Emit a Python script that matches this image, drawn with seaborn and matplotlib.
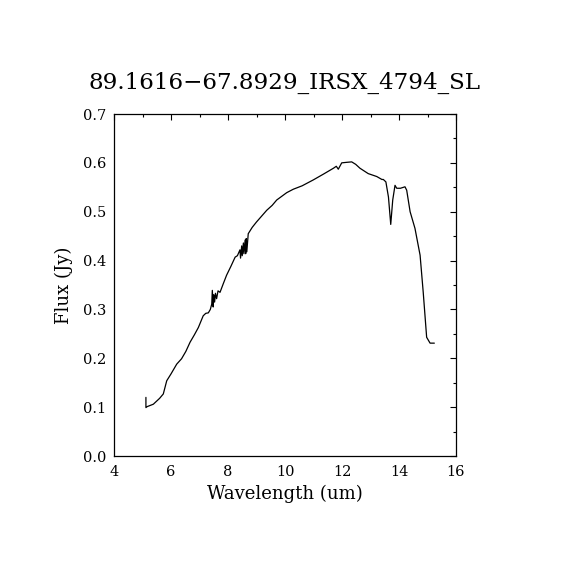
import matplotlib
matplotlib.use('Agg')
import matplotlib.pyplot as plt
import seaborn as sns
import pandas as pd
from matplotlib.ticker import MultipleLocator

# spectrum
wavelength = [5.12, 5.12, 5.16, 5.38, 5.60, 5.73, 5.85, 6.00, 6.20, 6.37, 6.52, 6.67,
              6.82, 6.96, 7.13, 7.22, 7.31, 7.38, 7.43, 7.45, 7.48, 7.50, 7.53, 7.56,
              7.60, 7.65, 7.72, 7.83, 7.95, 8.10, 8.25, 8.33, 8.42, 8.44, 8.48, 8.50,
              8.54, 8.56, 8.60, 8.62, 8.64, 8.66, 8.71, 8.85, 9.00, 9.18, 9.36, 9.55,
              9.71, 9.85, 10.06, 10.29, 10.60, 10.99, 11.35, 11.70, 11.80, 11.87, 11.99,
              12.15, 12.34, 12.48, 12.63, 12.92, 13.22, 13.40, 13.45, 13.54, 13.63,
              13.71, 13.78, 13.86, 13.92, 14.05, 14.21, 14.27, 14.39, 14.56, 14.74,
              14.85, 14.97, 15.09, 15.24]
flux = [0.120, 0.099, 0.101, 0.106, 0.118, 0.127, 0.154, 0.168, 0.188, 0.199, 0.214,
        0.233, 0.248, 0.263, 0.287, 0.292, 0.293, 0.300, 0.311, 0.339, 0.305, 0.330,
        0.315, 0.333, 0.322, 0.338, 0.335, 0.352, 0.370, 0.388, 0.407, 0.410, 0.422,
        0.405, 0.430, 0.410, 0.436, 0.414, 0.442, 0.414, 0.445, 0.418, 0.455, 0.468,
        0.479, 0.491, 0.503, 0.513, 0.524, 0.530, 0.539, 0.546, 0.553, 0.565, 0.577,
        0.589, 0.593, 0.587, 0.600, 0.601, 0.602, 0.597, 0.589, 0.578, 0.572, 0.566,
        0.566, 0.561, 0.530, 0.474, 0.524, 0.554, 0.548, 0.548, 0.551, 0.544, 0.500,
        0.466, 0.411, 0.335, 0.243, 0.231, 0.231]

title = "89.1616\u221267.8929_IRSX_4794_SL"

df = pd.DataFrame({'Wavelength': wavelength, 'Flux': flux})

sns.set_style('white')
plt.rcParams['font.family'] = ['DejaVu Serif']
plt.rcParams['text.color'] = 'black'
plt.rcParams['axes.labelcolor'] = 'black'

fig = plt.figure(figsize=(5.7, 5.7), dpi=100)
ax = fig.add_axes([0.2, 0.2, 0.6, 0.6])

sns.lineplot(data=df, x='Wavelength', y='Flux', sort=False, estimator=None,
             color='black', linewidth=0.9, ax=ax)

ax.set_xlim(4, 16)
ax.set_ylim(0, 0.7)
ax.xaxis.set_major_locator(MultipleLocator(2))
ax.xaxis.set_minor_locator(MultipleLocator(1))
ax.yaxis.set_major_locator(MultipleLocator(0.1))
ax.yaxis.set_minor_locator(MultipleLocator(0.05))
ax.yaxis.set_major_formatter(plt.FuncFormatter(lambda v, p: f'{v:.1f}'))
ax.tick_params(which='both', direction='in', top=True, right=True, colors='black',
               labelsize=10.5)
ax.tick_params(which='major', length=4.5, width=0.8)
ax.tick_params(which='minor', length=2.5, width=0.8)
ax.tick_params(axis='y', which='major', pad=5.5)
ax.tick_params(axis='x', which='major', pad=6.5)
for s in ax.spines.values():
    s.set_color('black')
    s.set_linewidth(0.9)

ax.set_xlabel('Wavelength (um)', fontsize=13, labelpad=4)
ax.set_ylabel('Flux (Jy)', fontsize=13, labelpad=7)
ax.set_title(title, fontsize=16.6, pad=18, color='black')

fig.savefig('out.png', dpi=100, facecolor='white')
